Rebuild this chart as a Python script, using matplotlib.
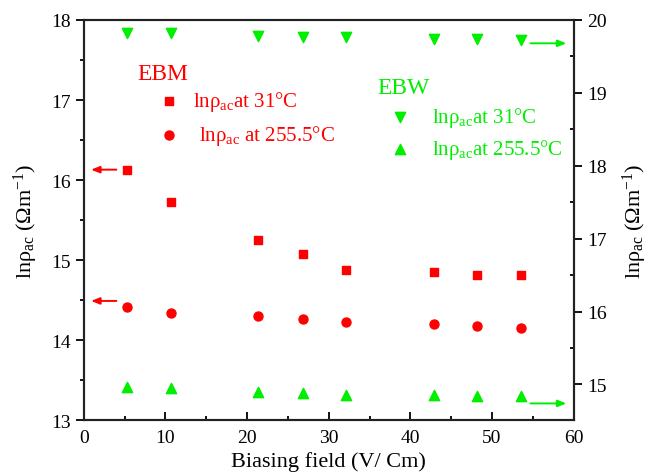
import matplotlib
matplotlib.use("Agg")
import matplotlib.pyplot as plt
from matplotlib.ticker import MultipleLocator

plt.rcParams['font.family'] = ['Liberation Serif', 'DejaVu Serif']
plt.rcParams['mathtext.fontset'] = 'custom'
plt.rcParams['mathtext.rm'] = 'Liberation Serif'
plt.rcParams['mathtext.it'] = 'Liberation Serif:italic'

field = [5.3, 10.7, 21.4, 26.8, 32.1, 42.9, 48.2, 53.6]
ebm_31 = [16.12, 15.72, 15.25, 15.08, 14.88, 14.85, 14.82, 14.82]
ebm_255 = [14.41, 14.34, 14.30, 14.26, 14.23, 14.20, 14.18, 14.15]
ebw_31 = [19.82, 19.82, 19.78, 19.77, 19.77, 19.74, 19.74, 19.73]
ebw_255 = [14.96, 14.95, 14.89, 14.88, 14.86, 14.85, 14.84, 14.84]

RED = '#ff0000'
GREEN = '#00ee00'

fig = plt.figure(figsize=(6.49, 4.77), dpi=100)
ax = fig.add_axes([0.129, 0.117, 0.755, 0.839])
ax2 = ax.twinx()

ax.scatter(field, ebm_31, marker='s', s=36, color=RED, zorder=3)
ax.scatter(field, ebm_255, marker='o', s=42, color=RED, zorder=3)
ax2.scatter(field, ebw_31, marker='v', s=55, color=GREEN, zorder=3)
ax2.scatter(field, ebw_255, marker='^', s=55, color=GREEN, zorder=3)

ax.set_xlim(0, 60)
ax.set_ylim(13, 18)
ax2.set_ylim(14.51, 20)

ax.xaxis.set_major_locator(MultipleLocator(10))
ax.xaxis.set_minor_locator(MultipleLocator(5))
ax.yaxis.set_major_locator(MultipleLocator(1))
ax.yaxis.set_minor_locator(MultipleLocator(0.5))
ax2.yaxis.set_major_locator(MultipleLocator(1))
ax2.yaxis.set_minor_locator(MultipleLocator(0.5))

for a in (ax, ax2):
    for s in a.spines.values():
        s.set_linewidth(1.5)
        s.set_color('#222222')

ax.tick_params(axis='x', which='major', direction='in', length=6, width=1.3, labelsize=14, pad=6)
ax.tick_params(axis='x', which='minor', direction='in', length=3, width=1.3)
ax.tick_params(axis='y', which='major', direction='out', length=6, width=1.3, labelsize=14)
ax.tick_params(axis='y', which='minor', direction='out', length=3, width=1.3)
ax2.tick_params(axis='y', which='major', direction='out', length=6, width=1.3, labelsize=14)
ax2.tick_params(axis='y', which='minor', direction='in', length=3, width=1.3)

ylab = 'lnρ$_{\\mathrm{ac}}$ (Ωm$^{-1}$)'
ax.set_xlabel('Biasing field (V/ Cm)', fontsize=16, labelpad=4)
ax.set_ylabel(ylab, fontsize=16, labelpad=8)
ax2.set_ylabel(ylab, fontsize=16, labelpad=10)

# arrows
arrow_kw = dict(arrowstyle='-|>,head_length=0.5,head_width=0.2', lw=1.4,
                mutation_scale=10, shrinkA=0, shrinkB=0)
ax.annotate('', xy=(0.9, 16.13), xytext=(4.0, 16.13), arrowprops=dict(color=RED, **arrow_kw))
ax.annotate('', xy=(0.9, 14.49), xytext=(4.0, 14.49), arrowprops=dict(color=RED, **arrow_kw))
ax2.annotate('', xy=(59.1, 19.68), xytext=(54.7, 19.68), arrowprops=dict(color=GREEN, **arrow_kw))
ax2.annotate('', xy=(59.1, 14.74), xytext=(54.7, 14.74), arrowprops=dict(color=GREEN, **arrow_kw))

# in-plot legends
fs = 15
ax.text(6.6, 17.33, 'EBM', color=RED, fontsize=17, va='center', ha='left')
ax.scatter([10.5], [16.99], marker='s', s=36, color=RED)
ax.text(13.4, 16.99, 'lnρ$_{\\mathrm{ac}}$at 31°C', color=RED, fontsize=fs, va='center')
ax.scatter([10.5], [16.56], marker='o', s=42, color=RED)
ax.text(14.1, 16.56, 'lnρ$_{\\mathrm{ac}}$ at 255.5°C', color=RED, fontsize=fs, va='center')

ax.text(35.9, 17.16, 'EBW', color=GREEN, fontsize=17, va='center', ha='left')
ax.scatter([38.7], [16.79], marker='v', s=55, color=GREEN)
ax.text(42.6, 16.79, 'lnρ$_{\\mathrm{ac}}$at 31°C', color=GREEN, fontsize=fs, va='center')
ax.scatter([38.7], [16.39], marker='^', s=55, color=GREEN)
ax.text(42.6, 16.39, 'lnρ$_{\\mathrm{ac}}$at 255.5°C', color=GREEN, fontsize=fs, va='center')

fig.savefig('out.png', dpi=100)
